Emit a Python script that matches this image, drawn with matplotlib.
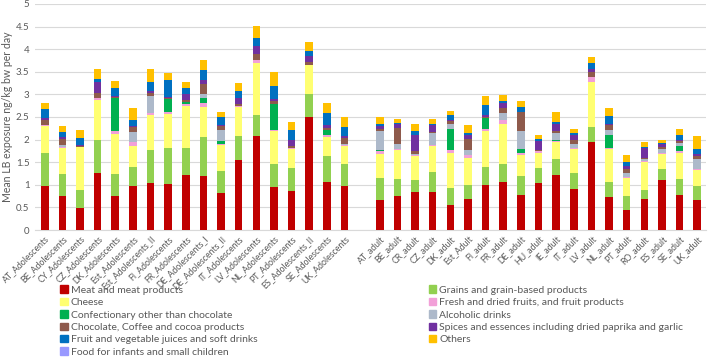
import numpy as np
import matplotlib
matplotlib.use("Agg")
import matplotlib.pyplot as plt
from matplotlib.patches import Patch

plt.rcParams['font.family'] = ['Lato', 'DejaVu Sans']

# category labels
adolescents = ['AT_Adolescents', 'BE_Adolescents', 'CY_Adolescents', 'CZ_Adolescents',
               'DK_Adolescents', 'Est_Adolescents', 'Est_Adolescents_II', 'FI_Adolescents',
               'FR_Adolescents', 'DE_Adolescents_I', 'DE_Adolescents_II', 'IT_Adolescents',
               'LV_Adolescents', 'NL_Adolescents', 'PT_Adolescents', 'ES_Adolescents_II',
               'SE_Adolescents', 'UK_Adolescents']
adults = ['AT_adult', 'BE_adult', 'CR_adult', 'CZ_adult', 'DK_adult', 'Est_Adult',
          'FI_adult', 'FR_adult', 'DE_adult', 'HU_adult', 'IE_adult', 'IT_adult',
          'LV_adult', 'NL_adult', 'PT_adult', 'RO_adult', 'ES_adult', 'SE_adult', 'UK_adult']

# series values (adolescents first, then adults)
meat = [0.98, 0.75, 0.48, 1.26, 0.75, 0.97, 1.05, 1.02, 1.21, 1.19, 0.82, 1.54, 2.08, 0.95, 0.86, 2.49, 1.06, 0.97,
        0.66, 0.75, 0.83, 0.83, 0.56, 0.69, 0.99, 1.06, 0.77, 1.03, 1.21, 0.90, 1.95, 0.73, 0.45, 0.68, 1.10, 0.78, 0.67]
grains = [0.72, 0.50, 0.40, 0.73, 0.50, 0.43, 0.72, 0.80, 0.61, 0.87, 0.49, 0.55, 0.46, 0.50, 0.51, 0.51, 0.57, 0.50,
          0.50, 0.37, 0.27, 0.46, 0.36, 0.30, 0.41, 0.39, 0.42, 0.34, 0.37, 0.37, 0.32, 0.33, 0.30, 0.21, 0.24, 0.34, 0.30]
cheese = [0.60, 0.57, 0.95, 0.88, 0.87, 0.45, 0.77, 0.74, 0.92, 0.67, 0.57, 0.64, 1.15, 0.74, 0.43, 0.66, 0.43, 0.38,
          0.53, 0.65, 0.53, 0.57, 0.79, 0.61, 0.79, 0.89, 0.48, 0.34, 0.37, 0.52, 1.01, 0.73, 0.40, 0.62, 0.34, 0.59, 0.35]
fruits = [0.03, 0.02, 0.00, 0.06, 0.07, 0.10, 0.05, 0.05, 0.04, 0.07, 0.02, 0.02, 0.08, 0.03, 0.02, 0.00, 0.04, 0.02,
          0.05, 0.02, 0.02, 0.02, 0.06, 0.05, 0.05, 0.10, 0.04, 0.03, 0.02, 0.02, 0.11, 0.03, 0.02, 0.02, 0.02, 0.03, 0.04]
confect = [0.00, 0.00, 0.00, 0.00, 0.73, 0.00, 0.00, 0.29, 0.05, 0.13, 0.06, 0.00, 0.00, 0.56, 0.00, 0.00, 0.11, 0.00,
           0.03, 0.00, 0.00, 0.00, 0.46, 0.00, 0.24, 0.00, 0.08, 0.00, 0.02, 0.00, 0.00, 0.29, 0.00, 0.00, 0.00, 0.11, 0.00]
alcohol = [0.00, 0.05, 0.00, 0.00, 0.00, 0.22, 0.38, 0.00, 0.00, 0.08, 0.26, 0.00, 0.00, 0.00, 0.00, 0.00, 0.00, 0.03,
           0.41, 0.11, 0.04, 0.26, 0.11, 0.11, 0.00, 0.14, 0.40, 0.00, 0.16, 0.09, 0.00, 0.11, 0.10, 0.04, 0.09, 0.07, 0.20]
chocolate = [0.10, 0.12, 0.02, 0.11, 0.02, 0.10, 0.05, 0.02, 0.05, 0.23, 0.07, 0.03, 0.13, 0.08, 0.04, 0.06, 0.05, 0.13,
             0.05, 0.36, 0.05, 0.02, 0.07, 0.26, 0.03, 0.11, 0.41, 0.04, 0.04, 0.09, 0.11, 0.10, 0.09, 0.02, 0.04, 0.06, 0.08]
spices = [0.05, 0.04, 0.02, 0.24, 0.02, 0.03, 0.06, 0.03, 0.13, 0.07, 0.04, 0.13, 0.17, 0.03, 0.13, 0.13, 0.07, 0.04,
          0.07, 0.08, 0.36, 0.17, 0.03, 0.08, 0.04, 0.11, 0.02, 0.20, 0.15, 0.11, 0.07, 0.02, 0.05, 0.22, 0.07, 0.02, 0.05]
juices = [0.19, 0.12, 0.17, 0.06, 0.19, 0.13, 0.20, 0.37, 0.13, 0.24, 0.16, 0.17, 0.18, 0.30, 0.23, 0.12, 0.25, 0.20,
          0.04, 0.02, 0.08, 0.02, 0.10, 0.04, 0.21, 0.06, 0.11, 0.04, 0.04, 0.04, 0.13, 0.18, 0.10, 0.02, 0.03, 0.10, 0.10]
others = [0.13, 0.12, 0.17, 0.23, 0.14, 0.27, 0.29, 0.16, 0.13, 0.21, 0.13, 0.18, 0.27, 0.31, 0.17, 0.19, 0.24, 0.23,
          0.15, 0.10, 0.17, 0.10, 0.10, 0.18, 0.20, 0.12, 0.12, 0.08, 0.23, 0.09, 0.13, 0.19, 0.16, 0.11, 0.07, 0.13, 0.29]
infant = [0.0] * 37

series = [
    ('Meat and meat products', meat, '#C00000'),
    ('Grains and grain-based products', grains, '#92D050'),
    ('Cheese', cheese, '#FFFF71'),
    ('Fresh and dried fruits, and fruit products', fruits, '#F2A0D8'),
    ('Confectionary other than chocolate', confect, '#00B050'),
    ('Alcoholic drinks', alcohol, '#ADB9CA'),
    ('Chocolate, Coffee and cocoa products', chocolate, '#8E5A4C'),
    ('Spices and essences including dried paprika and garlic', spices, '#7030A0'),
    ('Fruit and vegetable juices and soft drinks', juices, '#0070C0'),
    ('Others', others, '#FFC000'),
    ('Food for infants and small children', infant, '#9999FF'),
]

labels = adolescents + adults
x = np.r_[np.arange(len(adolescents)), np.arange(len(adolescents) + 1, len(labels) + 1)]

fig = plt.figure(figsize=(7.09, 3.59), dpi=100)
ax = fig.add_axes([0.0494, 0.3593, 0.9464, 0.6296])

bottom = np.zeros(len(labels))
handles = {}
for name, vals, col in series:
    vals = np.array(vals)
    ax.bar(x, vals, 0.43, bottom=bottom, color=col, zorder=3)
    handles[name] = Patch(color=col)
    bottom += vals

ax.set_ylim(0, 5)
ax.set_xlim(-0.55, 37.5)
ax.set_yticks(np.arange(0, 5.01, 0.5))
ax.set_yticklabels(['0', '0.5', '1', '1.5', '2', '2.5', '3', '3.5', '4', '4.5', '5'])
ax.yaxis.grid(True, color='#D9D9D9', linewidth=0.8, zorder=0)
for s in ['top', 'right', 'left']:
    ax.spines[s].set_visible(False)
ax.spines['bottom'].set_color('#D9D9D9')
ax.tick_params(axis='both', length=0, labelsize=7, colors='#595959', pad=4)
ax.tick_params(axis='x', pad=3)
ax.set_xticks(x)
ax.set_xticklabels(labels, rotation=45, ha='right', rotation_mode='anchor', fontsize=6.3, color='#595959')
ax.set_ylabel('Mean LB exposure ng/kg bw per day', fontsize=7.6, color='#595959', labelpad=2)

left_names = ['Meat and meat products', 'Cheese', 'Confectionary other than chocolate',
              'Chocolate, Coffee and cocoa products', 'Fruit and vegetable juices and soft drinks',
              'Food for infants and small children']
right_names = ['Grains and grain-based products', 'Fresh and dried fruits, and fruit products',
               'Alcoholic drinks', 'Spices and essences including dried paprika and garlic', 'Others']

kw = dict(loc='upper left', frameon=False, fontsize=7.5, handlelength=0.7, handleheight=0.7,
          handletextpad=0.3, labelspacing=0.3, borderaxespad=0, borderpad=0, labelcolor='#595959')
fig.legend([handles[n] for n in left_names], left_names,
           bbox_to_anchor=(0.085, 0.205), **kw)
fig.legend([handles[n] for n in right_names], right_names,
           bbox_to_anchor=(0.605, 0.205), **kw)

fig.savefig('out.png', dpi=100)
